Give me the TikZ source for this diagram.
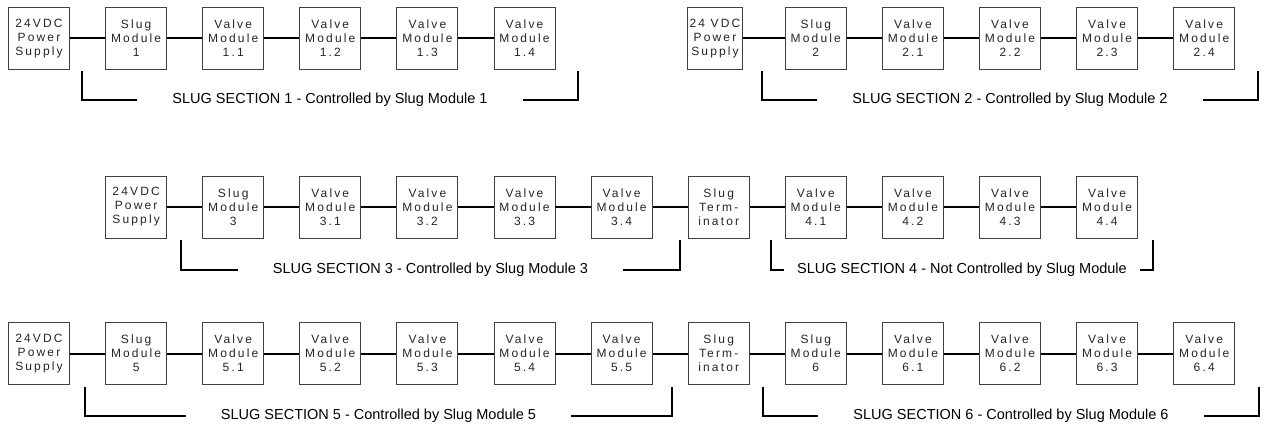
\documentclass[tikz,border=0pt]{standalone}
\usepackage{fontspec}
\setmainfont{Liberation Sans}
\newfontfamily\modfont[LetterSpace=18]{Liberation Sans}
\usetikzlibrary{positioning}

\begin{document}
\begin{tikzpicture}[x=1pt,y=-1pt]
\tikzstyle{module}=[
    draw=black!75, line width=0.9pt, fill=white,
    minimum width=61pt, minimum height=62pt, inner sep=0pt,
    align=center, text=black!85,
    font=\modfont\fontsize{12}{14}\selectfont]
\tikzstyle{wire}=[line width=2pt]
\tikzstyle{bracket}=[line width=2pt]
\tikzstyle{seclabel}=[font=\fontsize{14.5}{16}\selectfont, inner xsep=35pt, inner ysep=0pt]
\useasboundingbox (0,0) rectangle (1264,425);

% row 1
\node[module] (pwr1) at (39,38.5) {24VDC\\Power\\Supply};
\node[module] (slug1) at (136.1,38.5) {Slug\\Module\\1};
\node[module] (v11) at (233.2,38.5) {Valve\\Module\\1.1};
\node[module] (v12) at (330.3,38.5) {Valve\\Module\\1.2};
\node[module] (v13) at (427.4,38.5) {Valve\\Module\\1.3};
\node[module] (v14) at (524.5,38.5) {Valve\\Module\\1.4};
\node[module, minimum width=55pt] (pwr2) at (715,38.5) {24 VDC\\Power\\Supply};
\node[module] (slug2) at (815.8,38.5) {Slug\\Module\\2};
\node[module] (v21) at (912.9,38.5) {Valve\\Module\\2.1};
\node[module] (v22) at (1010,38.5) {Valve\\Module\\2.2};
\node[module] (v23) at (1107.1,38.5) {Valve\\Module\\2.3};
\node[module] (v24) at (1204.2,38.5) {Valve\\Module\\2.4};

% row 2
\node[module] (pwr3) at (136.1,207) {24VDC\\Power\\Supply};
\node[module] (slug3) at (233.2,207) {Slug\\Module\\3};
\node[module] (v31) at (330.3,207) {Valve\\Module\\3.1};
\node[module] (v32) at (427.4,207) {Valve\\Module\\3.2};
\node[module] (v33) at (524.5,207) {Valve\\Module\\3.3};
\node[module] (v34) at (621.6,207) {Valve\\Module\\3.4};
\node[module] (term3) at (718.7,207) {Slug\\Term-\\inator};
\node[module] (v41) at (815.8,207) {Valve\\Module\\4.1};
\node[module] (v42) at (912.9,207) {Valve\\Module\\4.2};
\node[module] (v43) at (1010,207) {Valve\\Module\\4.3};
\node[module] (v44) at (1107.1,207) {Valve\\Module\\4.4};

% row 3
\node[module] (pwr5) at (39,353.5) {24VDC\\Power\\Supply};
\node[module] (slug5) at (136.1,353.5) {Slug\\Module\\5};
\node[module] (v51) at (233.2,353.5) {Valve\\Module\\5.1};
\node[module] (v52) at (330.3,353.5) {Valve\\Module\\5.2};
\node[module] (v53) at (427.4,353.5) {Valve\\Module\\5.3};
\node[module] (v54) at (524.5,353.5) {Valve\\Module\\5.4};
\node[module] (v55) at (621.6,353.5) {Valve\\Module\\5.5};
\node[module] (term5) at (718.7,353.5) {Slug\\Term-\\inator};
\node[module] (slug6) at (815.8,353.5) {Slug\\Module\\6};
\node[module] (v61) at (912.9,353.5) {Valve\\Module\\6.1};
\node[module] (v62) at (1010,353.5) {Valve\\Module\\6.2};
\node[module] (v63) at (1107.1,353.5) {Valve\\Module\\6.3};
\node[module] (v64) at (1204.2,353.5) {Valve\\Module\\6.4};

% wiring
\draw[wire] (pwr1) -- (slug1) -- (v11) -- (v12) -- (v13) -- (v14);
\draw[wire] (pwr2) -- (slug2) -- (v21) -- (v22) -- (v23) -- (v24);
\draw[wire] (pwr3) -- (slug3) -- (v31) -- (v32) -- (v33) -- (v34) -- (term3)
    -- (v41) -- (v42) -- (v43) -- (v44);
\draw[wire] (pwr5) -- (slug5) -- (v51) -- (v52) -- (v53) -- (v54) -- (v55) -- (term5)
    -- (slug6) -- (v61) -- (v62) -- (v63) -- (v64);

% section brackets
\node[seclabel] (sec1) at (330,100) {SLUG SECTION 1 - Controlled by Slug Module 1};
\node[seclabel] (sec2) at (1010,100) {SLUG SECTION 2 - Controlled by Slug Module 2};
\node[seclabel] (sec3) at (430.5,270) {SLUG SECTION 3 - Controlled by Slug Module 3};
\node[seclabel, inner xsep=13pt] (sec4) at (962,270) {SLUG SECTION 4 - Not Controlled by Slug Module};
\node[seclabel] (sec5) at (378.5,416) {SLUG SECTION 5 - Controlled by Slug Module 5};
\node[seclabel] (sec6) at (1011,416) {SLUG SECTION 6 - Controlled by Slug Module 6};

\coordinate (sec1a) at (82,71);
\coordinate (sec1b) at (578,71);
\coordinate (sec2a) at (762,71);
\coordinate (sec2b) at (1258,71);
\coordinate (sec3a) at (181,240);
\coordinate (sec3b) at (680,240);
\coordinate (sec4a) at (771,240);
\coordinate (sec4b) at (1153,240);
\coordinate (sec5a) at (85,387);
\coordinate (sec5b) at (672,387);
\coordinate (sec6a) at (763,387);
\coordinate (sec6b) at (1259,387);

\draw[bracket] (sec1a) |- (sec1.west);
\draw[bracket] (sec1b) |- (sec1.east);
\draw[bracket] (sec2a) |- (sec2.west);
\draw[bracket] (sec2b) |- (sec2.east);
\draw[bracket] (sec3a) |- (sec3.west);
\draw[bracket] (sec3b) |- (sec3.east);
\draw[bracket] (sec4a) |- (sec4.west);
\draw[bracket] (sec4b) |- (sec4.east);
\draw[bracket] (sec5a) |- (sec5.west);
\draw[bracket] (sec5b) |- (sec5.east);
\draw[bracket] (sec6a) |- (sec6.west);
\draw[bracket] (sec6b) |- (sec6.east);
\end{tikzpicture}
\end{document}
